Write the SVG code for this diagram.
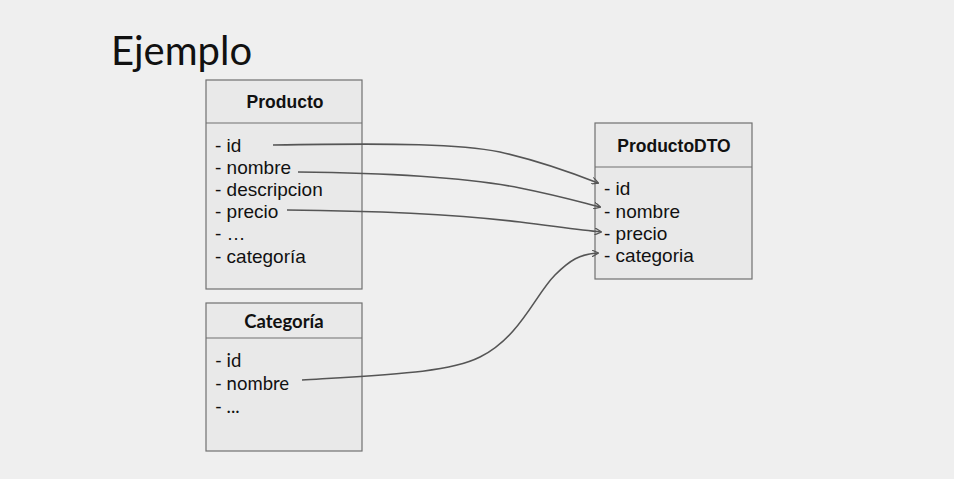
<svg xmlns="http://www.w3.org/2000/svg" width="954" height="479" viewBox="0 0 954 479">
<style>
.box{fill:#e9e9e9;stroke:#707070;stroke-width:1.2}
.div{stroke:#707070;stroke-width:1.2}
.ht{font-family:"Liberation Sans",Arial,sans-serif;font-weight:bold;font-size:17.5px;fill:#111;text-anchor:middle}
.it{font-family:"Liberation Sans",Arial,sans-serif;font-size:19px;fill:#111}
.lt{font-family:Lato,"Liberation Sans",sans-serif;font-size:18.5px;fill:#111}
.lh{font-family:Lato,"Liberation Sans",sans-serif;font-weight:bold;font-size:18.5px;fill:#111;text-anchor:middle}
.c{fill:none;stroke:#555;stroke-width:1.6}
</style>
<defs>
<marker id="ah" viewBox="0 0 10 10" refX="9" refY="5" markerWidth="7" markerHeight="7" markerUnits="userSpaceOnUse" orient="auto">
<path d="M0,0 L10,5 L0,10" fill="none" stroke="#555" stroke-width="1.8"/>
</marker>
</defs>
<rect width="954" height="479" fill="#efefef"/>
<text x="111" y="65" font-family="Lato,'Liberation Sans',sans-serif" font-size="40" fill="#111">Ejemplo</text>
<g id="producto">
<rect class="box" x="206" y="80" width="156" height="209"/>
<line class="div" x1="206" y1="123" x2="362" y2="123"/>
<text class="ht" x="285" y="108">Producto</text>
<text class="it" x="215" y="152">- id</text>
<text class="it" x="215" y="174">- nombre</text>
<text class="it" x="215" y="196">- descripcion</text>
<text class="it" x="215" y="218">- precio</text>
<text class="it" x="215" y="240">- …</text>
<text class="it" x="215" y="263">- categoría</text>
</g>
<g id="categoria">
<rect class="box" x="206" y="303" width="156" height="148"/>
<line class="div" x1="206" y1="338" x2="362" y2="338"/>
<text class="lh" x="284" y="328">Categoría</text>
<text class="lt" x="215" y="367">- id</text>
<text class="lt" x="215" y="390">- nombre</text>
<text class="lt" x="215" y="413">- ...</text>
</g>
<g id="productodto">
<rect class="box" x="595" y="123" width="157" height="156"/>
<line class="div" x1="595" y1="167" x2="752" y2="167"/>
<text class="ht" x="674" y="152">ProductoDTO</text>
<text class="it" x="604" y="195">- id</text>
<text class="it" x="604" y="218">- nombre</text>
<text class="it" x="604" y="240">- precio</text>
<text class="it" x="604" y="262">- categoria</text>
</g>
<g id="connectors">
<path class="c" marker-end="url(#ah)" d="M273,145 C400,143 460,144 500,152 C540,161 570,172 598,183"/>
<path class="c" marker-end="url(#ah)" d="M298,172 C400,173 470,178 520,188 C560,196 580,202 600,207"/>
<path class="c" marker-end="url(#ah)" d="M287,210 C400,211 470,216 520,222 C560,227 580,230 601,232"/>
<path class="c" marker-end="url(#ah)" d="M302,380 C400,374 450,372 480,357 C520,337 535,295 555,275 C570,260 580,254 598,253"/>
</g>
</svg>
